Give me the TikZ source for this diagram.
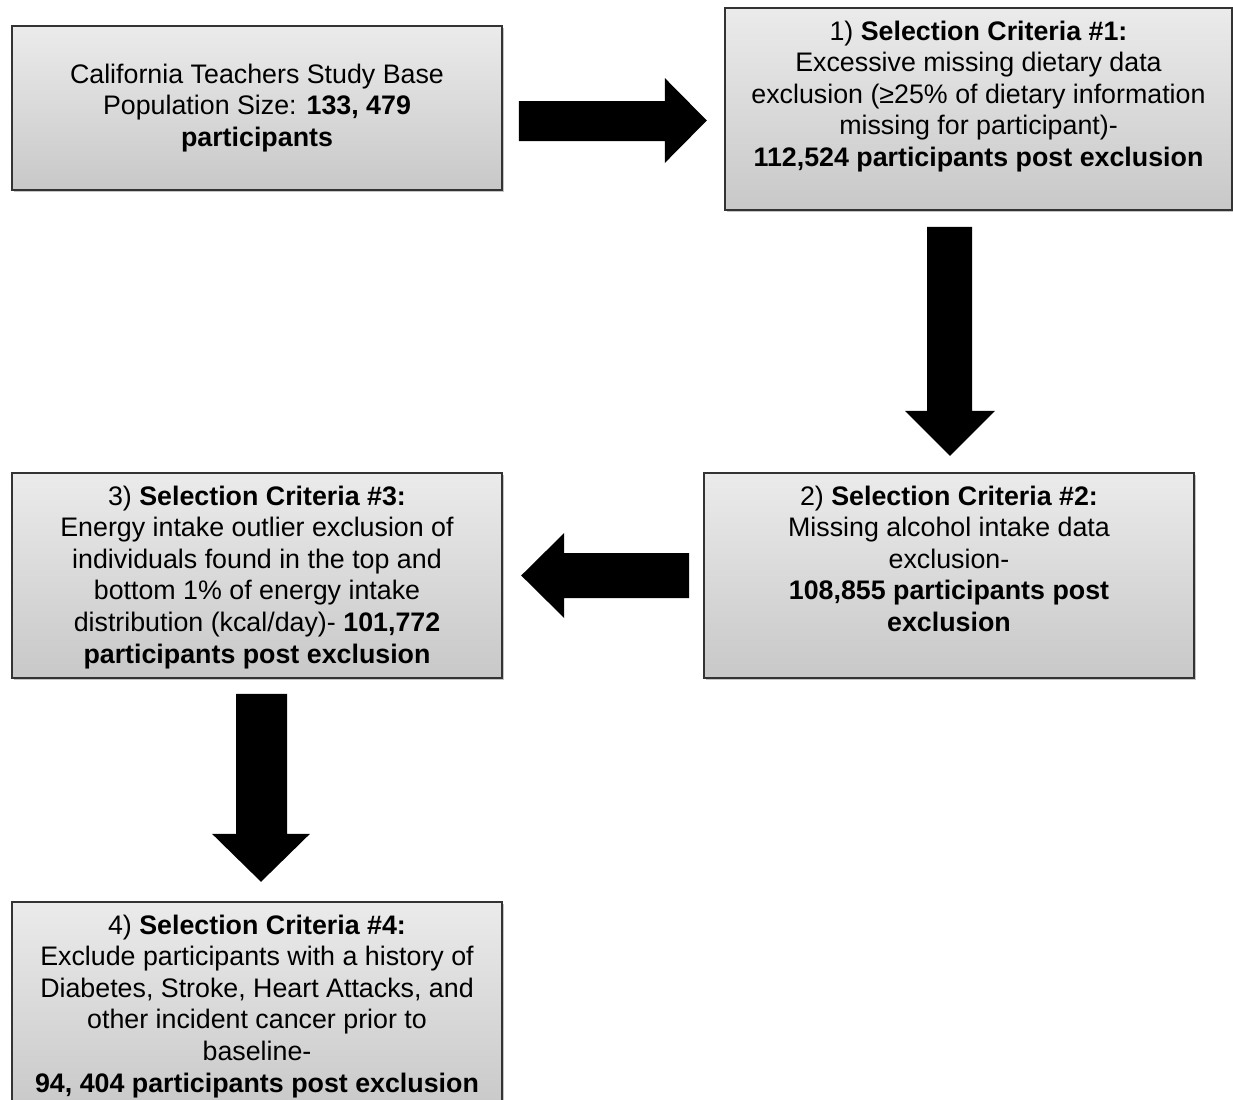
\documentclass[tikz,border=0pt]{standalone}
\usepackage{fontspec}
\setmainfont{Liberation Sans}
\usepackage{tikz}
\usetikzlibrary{positioning, calc, shadows}
\definecolor{boxtop}{HTML}{EBEBEB}
\definecolor{boxbottom}{HTML}{C8C8C8}
\definecolor{boxline}{HTML}{333333}
\newcommand{\crit}[1]{#1) \textbf{Selection Criteria \##1:}}

\begin{document}
\begin{tikzpicture}[
  x=0.5pt, y=-0.5pt,
  stage/.style={draw=boxline, line width=1.2pt, top color=boxtop, bottom color=boxbottom, minimum width=245pt, minimum height=#1, inner sep=0pt, drop shadow={shadow xshift=1.2pt, shadow yshift=-1.2pt, opacity=0.45}},
  txt/.style={align=center, inner sep=0pt, font=\fontsize{13.4}{15.8}\selectfont},
  blk/.style={fill=black}
]
\clip (0,0) rectangle (1233,1099);
\fill[white] (0,0) rectangle (1233,1099);

\node[stage=82pt] (basebox) at (257,108) {};
\node[stage=101pt, minimum width=253.5pt] (crit1box) at (978.5,109) {};
\node[stage=102.5pt] (crit2box) at (949,575.5) {};
\node[stage=102.5pt] (crit3box) at (257,575.5) {};
\node[stage=105pt] (crit4box) at (257,1007) {};

\node[txt] (basetxt) at (basebox) {California Teachers Study Base\\ Population Size: \textbf{133, 479}\\ \textbf{participants}};
\node[txt, below=6.7pt of crit1box.north] (crit1txt) {\crit{1}\\ Excessive missing dietary data\\ exclusion (≥25\% of dietary information\\ missing for participant)-\\ \textbf{112,524 participants post exclusion}};
\node[txt, below=6.7pt of crit2box.north] (crit2txt) {\crit{2}\\ Missing alcohol intake data\\ exclusion-\\ \textbf{108,855 participants post}\\ \textbf{exclusion}};
\node[txt, below=6.7pt of crit3box.north] (crit3txt) {\crit{3}\\ Energy intake outlier exclusion of\\ individuals found in the top and\\ bottom 1\% of energy intake\\ distribution (kcal/day)- \textbf{101,772}\\ \textbf{participants post exclusion}};
\node[txt, below=6.7pt of crit4box.north] (crit4txt) {\crit{4}\\ Exclude participants with a history of\\ Diabetes, Stroke, Heart Attacks, and\\ other incident cancer prior to\\ baseline-\\ \textbf{94, 404 participants post exclusion}};

\fill[blk] ($(crit1box.west)+(-17,11.5)$) -- ++(-42,-42.5) -- ++(0,23) -- ++(-146,0) -- ++(0,40) -- ++(146,0) -- ++(0,22) -- cycle;
\fill[blk] ($(crit2box.north)+(1,-16)$) -- ++(45,-45) -- ++(-23,0) -- ++(0,-184) -- ++(-45,0) -- ++(0,184) -- ++(-22,0) -- cycle;
\fill[blk] ($(crit3box.east)+(18,0)$) -- ++(43,-42.5) -- ++(0,20) -- ++(125,0) -- ++(0,45) -- ++(-125,0) -- ++(0,20) -- cycle;
\fill[blk] ($(crit4box.north)+(4,-19)$) -- ++(49,-48) -- ++(-23,0) -- ++(0,-140) -- ++(-51,0) -- ++(0,140) -- ++(-24,0) -- cycle;
\end{tikzpicture}
\end{document}
